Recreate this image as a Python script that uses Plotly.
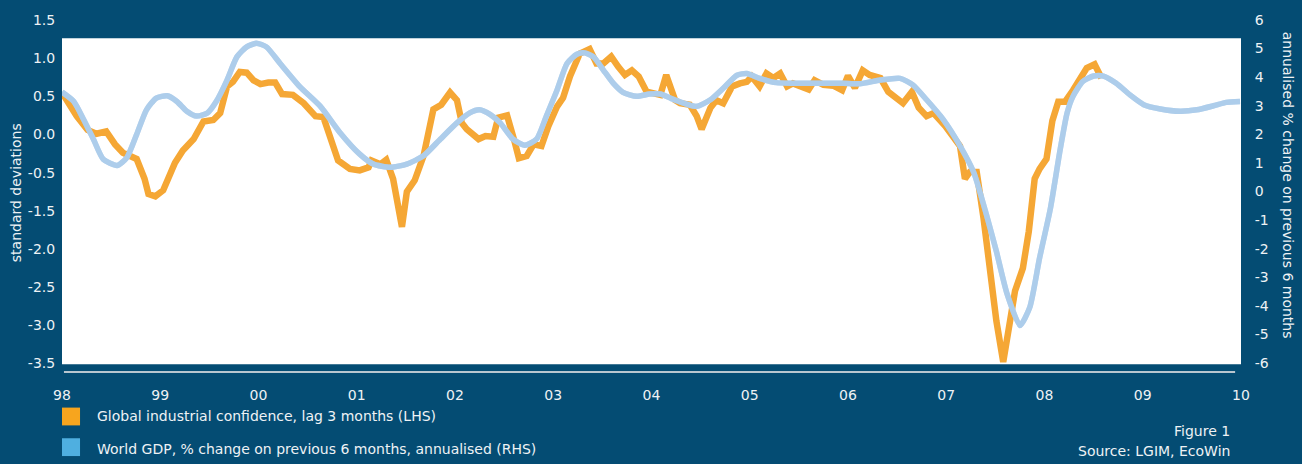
import plotly.graph_objects as go

# ---- data ----
conf_years = [1998.00, 1998.15, 1998.26, 1998.35, 1998.45, 1998.54, 1998.62, 1998.76, 1998.84, 1998.88,
              1998.95, 1999.03, 1999.15, 1999.23, 1999.34, 1999.44, 1999.54, 1999.61, 1999.68, 1999.74,
              1999.81, 1999.88, 1999.95, 2000.02, 2000.10, 2000.17, 2000.24, 2000.35, 2000.46, 2000.58,
              2000.66, 2000.75, 2000.81, 2000.93, 2001.03, 2001.12, 2001.15, 2001.24, 2001.30, 2001.37,
              2001.46, 2001.51, 2001.59, 2001.68, 2001.78, 2001.86, 2001.95, 2002.02, 2002.07, 2002.12,
              2002.24, 2002.31, 2002.39, 2002.44, 2002.53, 2002.61, 2002.65, 2002.73, 2002.80, 2002.88,
              2002.95, 2003.04, 2003.10, 2003.17, 2003.27, 2003.37, 2003.44, 2003.51, 2003.59, 2003.66,
              2003.73, 2003.80, 2003.87, 2003.95, 2004.02, 2004.09, 2004.15, 2004.24, 2004.29, 2004.39,
              2004.46, 2004.51, 2004.60, 2004.66, 2004.73, 2004.82, 2004.90, 2004.97, 2005.02, 2005.10,
              2005.17, 2005.24, 2005.31, 2005.38, 2005.44, 2005.51, 2005.60, 2005.66, 2005.75, 2005.85,
              2005.94, 2006.00, 2006.07, 2006.15, 2006.22, 2006.33, 2006.41, 2006.56, 2006.65, 2006.72,
              2006.80, 2006.87, 2006.99, 2007.14, 2007.19, 2007.24, 2007.31, 2007.38, 2007.45, 2007.51,
              2007.58, 2007.65, 2007.70, 2007.78, 2007.84, 2007.90, 2007.95, 2008.02, 2008.08, 2008.14,
              2008.21, 2008.29, 2008.38, 2008.43, 2008.51, 2008.58]
conf_values = [0.55, 0.24, 0.06, 0.01, 0.04, -0.13, -0.24, -0.32, -0.58, -0.78,
               -0.81, -0.73, -0.37, -0.21, -0.06, 0.17, 0.19, 0.28, 0.63, 0.69,
               0.82, 0.81, 0.71, 0.66, 0.68, 0.68, 0.53, 0.52, 0.41, 0.24,
               0.23, -0.11, -0.34, -0.45, -0.47, -0.43, -0.34, -0.39, -0.33, -0.58,
               -1.21, -0.75, -0.60, -0.28, 0.33, 0.39, 0.55, 0.45, 0.15, 0.07,
               -0.06, -0.02, -0.03, 0.22, 0.25, -0.11, -0.31, -0.28, -0.13, -0.15,
               0.11, 0.37, 0.48, 0.76, 1.06, 1.12, 0.93, 0.93, 1.02, 0.89,
               0.78, 0.84, 0.76, 0.56, 0.54, 0.52, 0.78, 0.45, 0.41, 0.39,
               0.24, 0.07, 0.35, 0.45, 0.41, 0.63, 0.67, 0.69, 0.76, 0.63,
               0.80, 0.74, 0.80, 0.63, 0.67, 0.63, 0.59, 0.71, 0.65, 0.64,
               0.58, 0.77, 0.61, 0.84, 0.78, 0.74, 0.56, 0.41, 0.56, 0.35,
               0.24, 0.28, 0.11, -0.15, -0.58, -0.49, -0.49, -1.10, -1.92, -2.44,
               -2.98, -2.48, -2.05, -1.75, -1.27, -0.58, -0.45, -0.32, 0.18, 0.43,
               0.43, 0.58, 0.76, 0.87, 0.92, 0.74]

gdp_years = [1998.00, 1998.12, 1998.22, 1998.32, 1998.42, 1998.56, 1998.66, 1998.76, 1998.86, 1998.96,
             1999.07, 1999.17, 1999.27, 1999.37, 1999.48, 1999.57, 1999.68, 1999.78, 1999.88, 1999.98,
             2000.08, 2000.22, 2000.42, 2000.63, 2000.83, 2001.03, 2001.17, 2001.34, 2001.51, 2001.68,
             2001.85, 2002.02, 2002.15, 2002.25, 2002.36, 2002.46, 2002.59, 2002.71, 2002.83, 2002.93,
             2003.04, 2003.14, 2003.24, 2003.32, 2003.41, 2003.51, 2003.61, 2003.71, 2003.85, 2003.98,
             2004.09, 2004.19, 2004.32, 2004.46, 2004.60, 2004.73, 2004.87, 2004.97, 2005.10, 2005.27,
             2005.44, 2005.61, 2005.78, 2005.95, 2006.12, 2006.33, 2006.53, 2006.66, 2006.80, 2006.97,
             2007.14, 2007.28, 2007.41, 2007.51, 2007.62, 2007.75, 2007.85, 2007.95, 2008.06, 2008.16,
             2008.23, 2008.29, 2008.39, 2008.50, 2008.60, 2008.73, 2008.87, 2009.01, 2009.18, 2009.38,
             2009.55, 2009.72, 2009.85, 2009.99]
gdp_values = [3.48, 3.15, 2.52, 1.83, 1.13, 0.91, 1.19, 2.00, 2.86, 3.27,
              3.35, 3.15, 2.81, 2.64, 2.75, 3.15, 3.90, 4.71, 5.06, 5.19,
              5.06, 4.48, 3.67, 2.98, 2.06, 1.31, 0.96, 0.85, 0.96, 1.25,
              1.83, 2.40, 2.75, 2.86, 2.69, 2.40, 1.83, 1.62, 1.83, 2.64,
              3.56, 4.48, 4.80, 4.85, 4.71, 4.25, 3.79, 3.47, 3.33, 3.41,
              3.41, 3.27, 3.10, 2.98, 3.21, 3.61, 4.07, 4.13, 3.96, 3.81,
              3.79, 3.79, 3.79, 3.79, 3.77, 3.90, 3.96, 3.73, 3.21, 2.52,
              1.60, 0.67, -0.82, -2.09, -3.59, -4.68, -4.05, -2.32, -0.59, 1.48,
              2.75, 3.33, 3.85, 4.04, 4.04, 3.79, 3.38, 3.04, 2.89, 2.81,
              2.86, 3.00, 3.12, 3.15]

x_tick_vals = [1998, 1999, 2000, 2001, 2002, 2003, 2004, 2005, 2006, 2007, 2008, 2009, 2010]
x_tick_text = ["98", "99", "00", "01", "02", "03", "04", "05", "06", "07", "08", "09", "10"]
left_tick_vals = [1.5, 1.0, 0.5, 0.0, -0.5, -1.0, -1.5, -2.0, -2.5, -3.0]
left_tick_text = ["1.5", "1.0", "0.5", "0.0", "-0.5", "-1.5", "-2.0", "-2.5", "-3.0", "-3.5"]
right_tick_vals = [6, 5, 4, 3, 2, 1, 0, -1, -2, -3, -4, -5, -6]
right_tick_text = ["6", "5", "4", "3", "2", "1", "0", "-1", "-2", "-3", "-4", "-5", "-6"]

conf_name = "Global industrial confidence, lag 3 months (LHS)"
gdp_name = "World GDP, % change on previous 6 months, annualised (RHS)"

# ---- style ----
BG = "#044C73"
TXT = "#EEF2F5"
ORANGE = "#F5A735"
ORANGE_SW = "#F7A51E"
BLUE_LINE = "#ADCDEB"
BLUE_SW = "#4FAFE0"
FONT = "DejaVu Sans"
FS = 14

fig = go.Figure()

fig.add_trace(go.Scatter(x=gdp_years, y=gdp_values, yaxis="y2", mode="lines", name=gdp_name,
                         line=dict(color=BLUE_LINE, width=5.5, shape="spline", smoothing=0.6),
                         showlegend=False, hoverinfo="skip"))
fig.add_trace(go.Scatter(x=conf_years, y=conf_values, mode="lines", name=conf_name,
                         line=dict(color=ORANGE, width=6.5), showlegend=False, hoverinfo="skip"))
fig.add_trace(go.Scatter(x=gdp_years, y=gdp_values, yaxis="y2", mode="lines",
                         line=dict(color=BLUE_LINE, width=5.5, shape="spline", smoothing=0.6),
                         opacity=0.55, showlegend=False, hoverinfo="skip"))

# white plotting panel
fig.add_shape(type="rect", xref="x", yref="y", x0=1998, x1=2010, y0=-3.01, y1=1.26,
              fillcolor="white", line=dict(width=0), layer="below")
# x axis line
fig.add_shape(type="line", xref="x", yref="paper", x0=1998.02, x1=2009.94, y0=0, y1=0,
              line=dict(color="#B9C6CF", width=2))

# custom legend
fig.add_shape(type="rect", xref="paper", yref="paper", x0=0.0, x1=0.0153, y0=-0.1517, y1=-0.1011,
              fillcolor=ORANGE_SW, line=dict(width=0))
fig.add_shape(type="rect", xref="paper", yref="paper", x0=0.0, x1=0.0153, y0=-0.2388, y1=-0.1882,
              fillcolor=BLUE_SW, line=dict(width=0))

annots = [
    dict(text=conf_name, x=0.028, y=-0.1264, xanchor="left", yanchor="middle"),
    dict(text=gdp_name, x=0.028, y=-0.2191, xanchor="left", yanchor="middle"),
    dict(text="Figure 1", x=0.9924, y=-0.1685, xanchor="right", yanchor="middle"),
    dict(text="Source: LGIM, EcoWin", x=0.9924, y=-0.2247, xanchor="right", yanchor="middle"),
    dict(text="standard deviations", x=-0.039, y=0.508, xanchor="center", yanchor="middle", textangle=-90),
    dict(text="annualised % change on previous 6 months", x=1.0399, y=0.532, xanchor="center",
         yanchor="middle", textangle=90),
]
for a in annots:
    fig.add_annotation(xref="paper", yref="paper", showarrow=False,
                       font=dict(family=FONT, size=FS, color=TXT), **a)

fig.update_layout(
    width=1302, height=464,
    margin=dict(l=62, r=61, t=16, b=92),
    paper_bgcolor=BG, plot_bgcolor=BG,
    font=dict(family=FONT, size=FS, color=TXT),
    xaxis=dict(range=[1998, 2010], tickvals=x_tick_vals, ticktext=x_tick_text,
               showgrid=False, zeroline=False, showline=False,
               ticks="outside", ticklen=10, tickcolor=BG,
               tickfont=dict(family=FONT, size=FS, color=TXT)),
    yaxis=dict(range=[-3.111, 1.5], tickvals=left_tick_vals, ticktext=left_tick_text,
               showgrid=False, zeroline=False, showline=False,
               ticks="outside", ticklen=3, tickcolor=BG,
               tickfont=dict(family=FONT, size=FS, color=TXT)),
    yaxis2=dict(range=[-6.31, 6], overlaying="y", side="right", tickvals=right_tick_vals,
                ticktext=right_tick_text,
                showgrid=False, zeroline=False, showline=False,
                ticks="outside", ticklen=10, tickcolor=BG,
                tickfont=dict(family=FONT, size=FS, color=TXT)),
)

fig.write_html("out.html")
